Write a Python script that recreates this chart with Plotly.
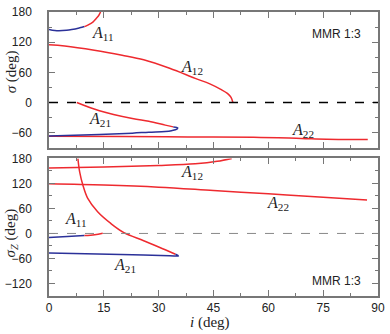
import plotly.graph_objects as go
from plotly.subplots import make_subplots

RED = "#ee2a2f"
BLUE = "#2b3199"

# --- top panel: sigma (deg) vs i (deg) ---
top_a11_blue_i = [0, 1.6, 4.8, 8.4, 9.7]
top_a11_blue_s = [145.5, 143, 143.5, 148.5, 151]
top_a11_red_i = [9.7, 10.6, 12.0, 12.9, 13.6, 14.1]
top_a11_red_s = [151, 154, 160, 167, 173, 180]
top_a12_i = [0, 4.3, 12.4, 20, 25.9, 33, 40, 44, 47, 48.8, 49.8, 50.3]
top_a12_s = [115, 112.5, 104, 94, 85, 68, 48, 37, 26, 18, 10, 0]
top_a21_red_i = [7.6, 13.8, 22.8, 27.3, 31.8, 34.0]
top_a21_red_s = [0, -16.5, -32, -37.5, -45, -48.5]
top_a21_blue_i = [34.0, 35.2, 35.0, 33.5, 31.8, 27.3, 22.8, 13.8, 0]
top_a21_blue_s = [-48.5, -50.5, -53, -56, -57.5, -59, -61, -63.5, -66.5]
top_a22_i = [0, 20, 38, 56, 69, 76, 87.2]
top_a22_s = [-67, -67.5, -68.5, -69, -71.5, -73, -73.5]

# --- bottom panel: sigma_Z (deg) vs i (deg) ---
bot_a12_i = [0, 15, 30, 40, 46, 50]
bot_a12_s = [157, 159.5, 163, 167, 173, 180]
bot_a22_i = [0, 15, 30, 45, 60, 75, 87]
bot_a22_s = [119, 116, 111, 103, 95, 87, 80]
bot_a21_red_i = [7.9, 8.4, 9.3, 10.6, 13.3, 16.9, 20.5, 25.9, 31.8, 34.6]
bot_a21_red_s = [180, 147, 115, 84, 52, 24, 2, -17.5, -39, -50]
bot_a21_blue_i = [34.6, 35.4, 33, 22.8, 10, 0]
bot_a21_blue_s = [-50, -54, -53.5, -51, -48.5, -47]
bot_a11_blue_i = [0, 5, 9.7]
bot_a11_blue_s = [-9.7, -7.5, -5]
bot_a11_red_i = [9.7, 12.5, 14.7]
bot_a11_red_s = [-5, -3, 0.5]

# curve labels: (row, i, sigma, name)
labels = [
    (1, 14.9, 137, "11"), (1, 39.2, 70, "12"), (1, 14, -33, "21"), (1, 69.5, -56, "22"),
    (2, 39.2, 147, "12"), (2, 62.7, 73, "22"), (2, 7.3, 33, "11"), (2, 20.8, -78, "21"),
]

fig = make_subplots(rows=2, cols=1)

def add_curve(x, y, color, row):
    fig.add_trace(go.Scatter(x=x, y=y, mode="lines", line=dict(color=color, width=1.5, shape="spline"),
                             showlegend=False, hoverinfo="skip"), row=row, col=1)

add_curve(top_a12_i, top_a12_s, RED, 1)
add_curve(top_a22_i, top_a22_s, RED, 1)
add_curve(top_a11_blue_i, top_a11_blue_s, BLUE, 1)
add_curve(top_a11_red_i, top_a11_red_s, RED, 1)
add_curve(top_a21_red_i, top_a21_red_s, RED, 1)
add_curve(top_a21_blue_i, top_a21_blue_s, BLUE, 1)

add_curve(bot_a12_i, bot_a12_s, RED, 2)
add_curve(bot_a22_i, bot_a22_s, RED, 2)
add_curve(bot_a21_red_i, bot_a21_red_s, RED, 2)
add_curve(bot_a21_blue_i, bot_a21_blue_s, BLUE, 2)
add_curve(bot_a11_blue_i, bot_a11_blue_s, BLUE, 2)
add_curve(bot_a11_red_i, bot_a11_red_s, RED, 2)

fig.add_hline(y=0, line=dict(color="black", width=1.5, dash="dash"), row=1, col=1)
fig.add_hline(y=0, line=dict(color="#888", width=1, dash="dash"), row=2, col=1)

tickfont = dict(family="Liberation Sans", size=12, color="#222")
axis_style = dict(showline=True, linecolor="#777", linewidth=1.5, mirror="ticks",
                  ticks="inside", ticklen=6, tickwidth=1, tickcolor="#777",
                  showgrid=False, zeroline=False, tickfont=tickfont)

fig.update_xaxes(axis_style, range=[0, 90], dtick=15,
                 minor=dict(ticks="inside", ticklen=3, tickcolor="#777", dtick=7.5, showgrid=False))
fig.update_xaxes(showticklabels=False, row=1, col=1)
fig.update_xaxes(ticklabelstandoff=0, row=2, col=1)
fig.update_yaxes(axis_style, dtick=60, ticklabelstandoff=13,
                 minor=dict(ticks="inside", ticklen=3, tickcolor="#777", dtick=30, showgrid=False))
fig.update_yaxes(range=[-90, 180], domain=[0.522, 1], row=1, col=1)
fig.update_yaxes(range=[-150, 180], tickvals=[-120, -60, 0, 60, 120, 180], domain=[0, 0.4845], row=2, col=1)

serif = dict(family="Liberation Serif", size=15, color="#222")
label_font = dict(family="Liberation Serif", size=16, color="#222")
for row, xi, ys, sub in labels:
    fig.add_annotation(x=xi, y=ys, xref="x" if row == 1 else "x2", yref="y" if row == 1 else "y2",
                       text=f"<i>A</i><sub>{sub}</sub>", showarrow=False, font=label_font)

for yr, yv in (("y", 137), ("y2", -114)):
    fig.add_annotation(x=86, y=yv, xref="x", yref=yr, xanchor="right", text="MMR 1:3",
                       showarrow=False, font=dict(family="Liberation Sans", size=12, color="#222"))

fig.add_annotation(x=0, y=60, xref="paper", yref="y", xshift=-38, xanchor="center", yanchor="middle",
                   textangle=-90, text="<i>σ</i> (deg)", showarrow=False, font=serif)
fig.add_annotation(x=0, y=0, xref="paper", yref="y2", xshift=-38, xanchor="center", yanchor="middle",
                   textangle=-90, text="<i>σ<sub>Z</sub></i> (deg)", showarrow=False, font=serif)
fig.add_annotation(x=44, y=0, xref="x2", yref="paper", yshift=-26, xanchor="center", yanchor="middle",
                   text="<i>i</i> (deg)", showarrow=False, font=serif)

fig.update_layout(width=390, height=334, margin=dict(l=49, r=7, t=5, b=38),
                  plot_bgcolor="white", paper_bgcolor="white")

# drop the browser's default body margin so the figure sits at the page corner
fig.write_html("out.html", config={"displayModeBar": False},
               post_script="document.body.style.margin='0';")
